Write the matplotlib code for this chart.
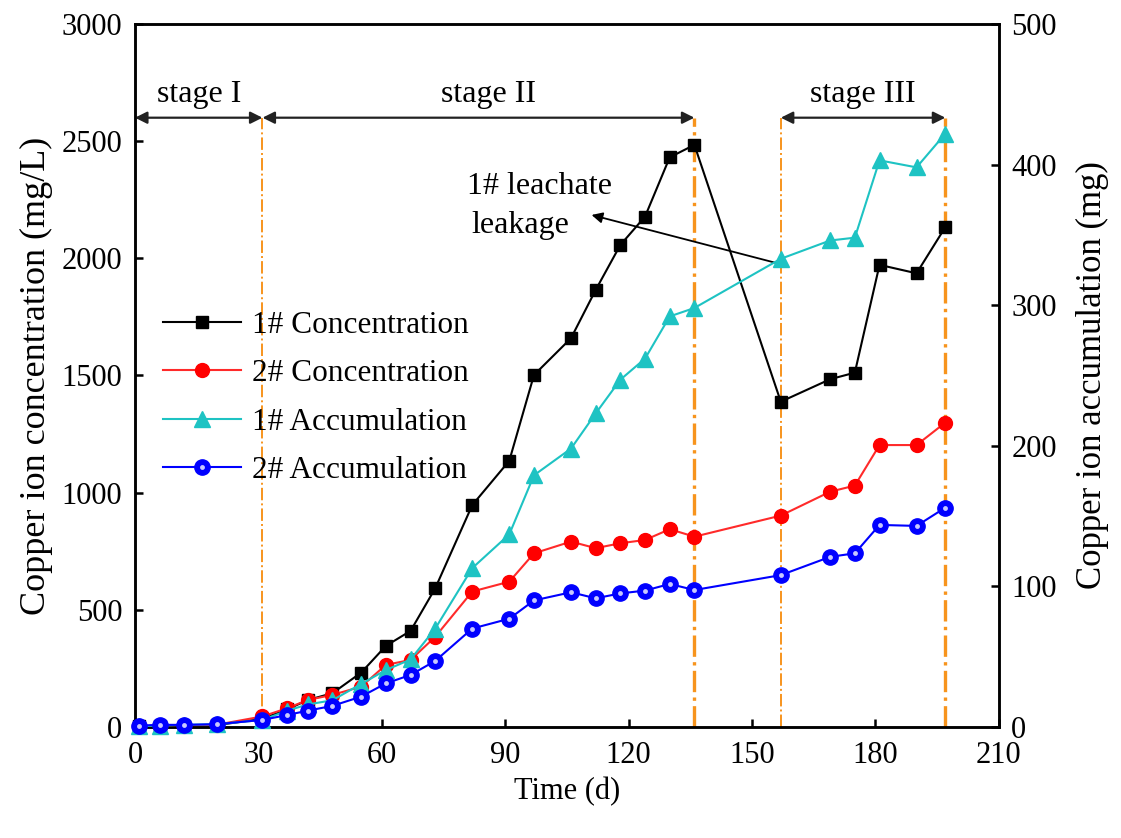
import matplotlib
matplotlib.use('Agg')
import matplotlib.pyplot as plt
from matplotlib.legend_handler import HandlerTuple

plt.rcParams['font.family'] = ['Liberation Serif', 'DejaVu Serif']

# data
days = [1, 6, 12, 20, 31, 37, 42, 48, 55, 61, 67, 73, 82, 91, 97, 106, 112,
        118, 124, 130, 136, 157, 169, 175, 181, 190, 197]
conc1 = [2, 3, 4, 8, 35, 75, 115, 144, 232, 346, 410, 592, 947, 1136, 1502,
         1659, 1865, 2057, 2178, 2431, 2484, 1388, 1484, 1512, 1972, 1936, 2133]
conc2 = [3, 4, 5, 10, 45, 80, 115, 137, 172, 265, 286, 385, 578, 620, 741,
         791, 763, 784, 798, 844, 812, 902, 1004, 1030, 1203, 1203, 1299]
accum1 = [0.5, 1, 1.5, 2, 5, 11.6, 16, 19, 30.6, 40.5, 48, 70, 113, 137, 179,
          198, 223, 247, 262, 292, 298, 333, 346, 348, 403, 398, 422]
accum2 = [1, 1.5, 1.5, 2, 5, 8.5, 11.6, 15, 21.6, 31, 37, 47, 70, 77, 90,
          95.8, 91.5, 95, 97, 101.7, 97.4, 108, 121, 123.5, 143.7, 143, 156]

labels = ['1# Concentration', '2# Concentration', '1# Accumulation', '2# Accumulation']
stage_bounds = [31, 136, 157, 197]
# name, arrow start, arrow end, text centre
stages = [('stage I', 0, 31, 15.5), ('stage II', 31, 136, 86),
          ('stage III', 157, 197, 177)]

fig = plt.figure(figsize=(11.21, 8.38), dpi=100)
ax = fig.add_axes([0.1204, 0.1325, 0.7706, 0.8389])
ax2 = ax.twinx()

orange = '#F7941D'
for d in stage_bounds:
    lw = 2.4 if d in (136, 197) else 1.4
    ax.plot([d, d], [0, 2600], color=orange, lw=lw, ls='-.', zorder=1)

h1, = ax.plot(days, conc1, color='black', lw=1.5, marker='s', ms=9,
              clip_on=False, zorder=3)
h2, = ax.plot(days, conc2, color='#FF2A2A', lw=1.5, marker='o', ms=10,
              mfc='red', mec='red', clip_on=False, zorder=3)
h3, = ax2.plot(days, accum1, color='#1EC3C3', lw=1.5, marker='^', ms=11,
               clip_on=False, zorder=3)
h4, = ax2.plot(days, accum2, color='#0000FF', lw=1.5, marker='o', ms=11,
               clip_on=False, zorder=4)
h4b, = ax2.plot(days, accum2, ls='none', marker='o', ms=3.5, mfc='#C8C8FF',
                mec='none', clip_on=False, zorder=5)

# stage arrows
for name, a, b, c in stages:
    ax.annotate('', xy=(a, 2600), xytext=(b, 2600),
                arrowprops=dict(arrowstyle='<|-|>', color='#222222', lw=1.6,
                                mutation_scale=18, shrinkA=0, shrinkB=0))
    ax.text(c, 2635, name, ha='center', va='bottom', fontsize=23)

ax.text(80.6, 2305, '1# leachate', ha='left', va='center', fontsize=23)
ax.text(81.8, 2142, 'leakage', ha='left', va='center', fontsize=23)
ax.annotate('', xy=(111, 2185), xytext=(157, 1975),
            arrowprops=dict(arrowstyle='-|>', color='black', lw=1.3,
                            mutation_scale=16, shrinkA=0, shrinkB=0))

ax.set_xlim(0, 210)
ax.set_ylim(0, 3000)
ax2.set_ylim(0, 500)
ax.set_xticks(range(0, 211, 30))
ax.set_yticks(range(0, 3001, 500))
ax2.set_yticks(range(0, 501, 100))

for a in (ax, ax2):
    a.tick_params(direction='in', length=6, width=1.8, labelsize=22, pad=9)
    for s in a.spines.values():
        s.set_linewidth(1.8)
ax.tick_params(axis='x', pad=10)

ax.set_xlabel('Time (d)', fontsize=22, labelpad=5)
ax.set_ylabel('Copper ion concentration (mg/L)', fontsize=26, labelpad=6)
ax2.set_ylabel('Copper ion accumulation (mg)', fontsize=25, labelpad=14)

leg = ax2.legend([h1, h2, h3, (h4, h4b)], labels, loc='upper left',
                 bbox_to_anchor=(0.126, 0.655), bbox_transform=fig.transFigure,
                 frameon=False, fontsize=22.5, handlelength=2.5, labelspacing=0.62,
                 handletextpad=0.35, borderpad=0.2,
                 handler_map={tuple: HandlerTuple(ndivide=1, pad=0)})

fig.savefig('out.png', dpi=100)
